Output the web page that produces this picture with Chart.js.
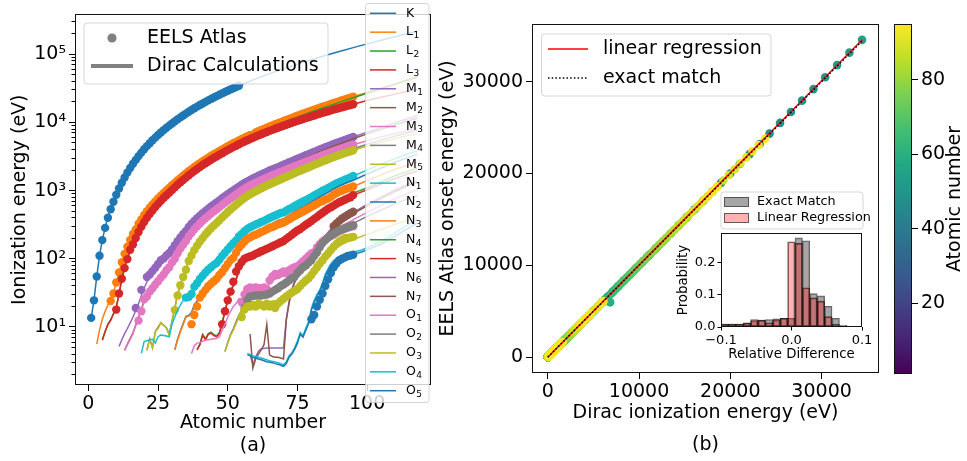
<!DOCTYPE html>
<html><head><meta charset="utf-8">
<script src="https://cdn.jsdelivr.net/npm/chart.js@4/dist/chart.umd.min.js"></script>
<style>
html,body{margin:0;padding:0;background:#fff;}
body{width:967px;height:461px;position:relative;overflow:hidden;}
canvas{position:absolute;}
</style></head><body>
<canvas id="cL" width="445" height="461" style="left:0px;top:0px"></canvas>
<canvas id="cR" width="455" height="461" style="left:435px;top:0px"></canvas>
<canvas id="cI" width="215" height="185" style="left:660px;top:180px"></canvas>
<canvas id="cC" width="87" height="461" style="left:880px;top:0px"></canvas>
<script>
// ================= DATA =================
// Each edge: first atomic number, Dirac values for consecutive Z, EELS Atlas values (same Z, null = none), extra Dirac points [Z, E].
const shellNames = ['K','L1','L2','L3','M1','M2','M3','M4','M5','N1','N2','N3','N4','N5','N6','N7','O1','O2','O3','O4','O5'];
const shellColors = ['#1f77b4','#ff7f0e','#2ca02c','#d62728','#9467bd','#8c564b','#e377c2','#7f7f7f','#bcbd22','#17becf','#1f77b4','#ff7f0e','#2ca02c','#d62728','#9467bd','#8c564b','#e377c2','#7f7f7f','#bcbd22','#17becf','#1f77b4'];

const K_start = 1;
const K_dirac = [13.6,24.6,54.7,111,188,284,410,543,697,870, 1071,1303,1560,1839,2146,2472,2822,3206,3608,4038, 4492,4966,5465,5989,6539,7112,7709,8333,8979,9659, 10367,11103,11867,12658,13474,14326,15200,16105,17038,17998, 18986,20000,21044,22117,23220,24300,25450,26640,27860,29110, 30390,31700,33050,34430];
const K_eels  = [13.6,24.6,55,111,188,284,401,532,685,867, 1072,1305,1560,1839,2146,2472,2822,3206,3608,4038, 4492,4966,5465,5989,6539,7112,7709,8333,8979,9659, 10367,11103,11867,12658,13474,14326,15200,16105,17038,17998, 18986,20000,21044,22117,23220,24350,25514,26711,27940,29200, 30491,31814,33169,34561];
const K_ext = [[55,35985],[60,43569],[65,51996],[70,61332],[75,71676],[80,83102],[85,95730],[90,109651],[95,125030],[100,141900],[105,160500],[110,181000],[115,203600],[118,218000]];

const L1_start = 3;
const L1_dirac = [5.6,9,13,17,21,26,31,45,63,89, 118,150,189,231,270,326,379,438, 498,561,627,696,769,845,925,1009,1097,1196, 1299,1415,1527,1652,1782,1921,2065,2216,2373,2532, 2698,2866,3043,3224,3412,3604,3806,4018,4238,4465, 4698,4939,5188,5453,5714,5989,6266,6549,6835,7126, 7428,7737,8052,8376,8708,9046,9394,9751,10116,10486, 10870,11271,11682,12100,12527,12968,13419,13880,14353,14839, 15347,15861,16388,16939,17493,18049,18639,19237,19840,20472, 21105,21757,22427,23100,23800];
const L1_eels  = [null,null,null,null,null,24,31,45,63,89, 118,150,189,231,270,326,379,438, 498,561,627,696,769,845,925,1009,1097,1196, 1299,1415,1527,1652,1782,1921,2065,2216,2373,2532, 2698,2866,3043,3224,3412,3604,3806,4018,4238,4465, 4698,4939,5188,5453,5714,5989,6266,6549,5970,7126, 7428,7737,8052,8376,8708,9046,9394,9751,10116,10486, 10870,11271,11682,12100,12527,12968,13419,13880,14353,14839, 15347,15861,16388,16939,17493,18049,18639,19237,19840,20472, 21105,21757,22427,23100,23800];
const L1_ext = [[100,27500],[105,31700],[110,36500],[115,42000],[118,45500]];

const L2_ext = [[5,6.5],[6,8.6],[7,11],[8,12.8],[9,15.8],[10,19.5],[11,31],[12,51],[13,74],[14,100],[16,165],[18,251],[20,350],[22,460],[24,584],[26,720],[28,870],[30,1045],[32,1248],[34,1474],[36,1731],[38,2007],[40,2307],[42,2625],[44,2967],[46,3330],[48,3727],[50,4156],[52,4612],[54,5107],[56,5624],[58,6164],[60,6722],[62,7312],[64,7930],[66,8581],[68,9264],[70,9978],[72,10739],[74,11544],[76,12385],[78,13273],[80,14209],[82,15200],[84,16244],[86,17337],[88,18484],[90,19693],[92,20948],[95,23000],[100,26800],[105,31200],[110,36500],[115,42800],[118,47000]];

const L3_start = 5;
const L3_dirac = [6.4,8.5,10.8,12.5,15.5,19, 30.5,49.5,72.7,99.4,136,163,202,248,295,346, 399,454,512,574,639,707,778,853,933,1022, 1116,1217,1324,1434,1550,1678,1804,1940,2080,2223, 2371,2520,2677,2838,3004,3173,3351,3538,3730,3929, 4132,4341,4557,4786,5012,5247,5483,5723,5964,6208, 6459,6716,6977,7243,7514,7790,8071,8358,8648,8944, 9244,9561,9881,10207,10535,10871,11215,11564,11919,12284, 12658,13035,13419,13814,14214,14619,15031,15444,15871,16300, 16733,17166,17610,18000,18500];
const L3_eels  = [null,null,null,null,null,18, 31,51,73,99,136,163,202,248,295,346, 399,454,512,574,639,707,778,853,933,1022, 1116,1217,1324,1434,1550,1678,1804,1940,2080,2223, 2371,2520,2677,2838,3004,3173,3351,3538,3730,3929, 4132,4341,4557,4786,5012,5247,5483,5723,5964,6208, 6459,6716,6977,7243,7514,7790,8071,8358,8648,8944, 9244,9561,9881,10207,10535,10871,11215,11564,11919,12284, 12658,13035,13419,13814,14214,14619,15031,15444,15871,16300, 16733,17166,17610,18000,18500];
const L3_ext = [[100,20900],[105,23400],[110,26000],[115,28800],[118,30500]];

const M1_start = 11;
const M1_dirac = [5.2,6.5,8,9.5,11.5,14,17.5,22,29,37, 46,53,60,68,77,86,97,108,122,135, 158,181,205,232,257,292,327,358,394,430, 467,505,544,586,628,670,719,772,827,884, 946,1006,1072,1145,1217,1293,1362,1436,1511,1575, 1650,1723,1800,1881,1968,2047,2128,2206,2307,2398, 2491,2601,2708,2820,2932,3049,3174,3296,3425,3562, 3704,3851,3999,4149,4317,4482,4652,4822,5002,5182, 5367,5548,5723,5900,6100];
const M1_eels  = [null,null,null,null,null,null,19,null,35,null, 54,59,66,74,84,95,101,112,122,137, 158,181,205,232,257,292,327,358,394,430, 467,505,544,586,628,670,719,772,827,884, 946,1006,1072,1145,1217,1293,1362,1436,1511,1575, 1650,1723,1800,1881,1968,2047,2128,2206,2307,2398, 2491,2601,2708,2820,2932,3049,3174,3296,3425,3562, 3704,3851,3999,4149,4317,4482,4652,4822,5002,5182, 5367,5548,5723,5900,6100];
const M1_ext = [[100,7200],[105,8400],[110,9900],[115,11500],[118,12500]];

const M2_ext = [[13,4.6],[14,5.6],[15,6.8],[16,8.2],[17,10.8],[18,14],[19,18.3],[20,24],[21,29],[22,33.5],[24,43.5],[26,54.5],[28,70.5],[30,91.4],[32,124.9],[34,166.5],[36,222.2],[38,280.3],[40,343.5],[42,411.6],[44,483.5],[46,559.9],[48,652.6],[50,756.5],[52,870.8],[54,999],[56,1137],[58,1274],[60,1403],[62,1541],[64,1688],[66,1842],[68,2006],[70,2173],[72,2365],[74,2575],[76,2792],[78,3027],[80,3279],[82,3554],[84,3854],[86,4159],[88,4490],[90,4830],[92,5182],[95,5750],[100,6800],[105,7900],[110,9200],[115,10600],[118,11500]];

const M3_start = 13;
const M3_dirac = [4.5,5.5,6.6,8,10.5,13.5,17.7,23, 27.7,32,37,42,47,52.7,58.9,68,75,88.6, 100,120.8,141,160.7,182,214.4,239,270,299,330, 361,394,425,461,496,532,573,618,665,714, 766,820,875,937,998,1063,1128,1187,1242,1297, 1357,1420,1481,1544,1611,1676,1741,1812,1885,1950, 2024,2108,2194,2281,2367,2457,2551,2645,2743,2847, 2957,3066,3177,3302,3426,3538,3666,3791,3909,4046, 4174,4303,4435,4550,4700];
const M3_eels  = [null,null,null,null,null,12.4,17,25.4, 28,33,37,42,47,53,58.9,68,75,88.6, 100,120.8,141,160.7,182,214.4,239,270,299,330, 361,394,425,461,496,532,573,618,665,714, 766,820,875,937,998,1063,1128,1187,1242,1297, 1357,1420,1481,1544,1611,1676,1741,1812,1885,1950, 2024,2108,2194,2281,2367,2457,2551,2645,2743,2847, 2957,3066,3177,3302,3426,3538,3666,3791,3909,4046, 4174,4303,4435,4550,4700];
const M3_ext = [[100,5400],[105,6100],[110,6900],[115,7600],[118,8000]];

const M4_ext = [[21,4.6],[22,6.7],[23,5],[24,8.6],[26,11.6],[28,9.8],[29,7.8],[30,12.3],[31,19],[32,30.2],[34,55.5],[36,95],[38,136],[40,181],[42,231],[44,284],[46,340],[48,412],[50,493],[52,583],[54,689],[56,796],[58,902],[60,1003],[62,1111],[64,1222],[66,1333],[68,1453],[70,1576],[72,1716],[74,1872],[76,2031],[78,2202],[80,2385],[82,2586],[84,2798],[86,3022],[88,3248],[90,3491],[92,3728],[95,4120],[100,4800],[105,5500],[110,6300],[115,7100],[118,7600]];

const M5_start = 21;
const M5_dirac = [4.5,6.6,4.9,8.5,9.5,11.5,10.5,9.6,7.6,12, 18.7,29.8,41.7,54.6,69,93.8,112,134,156,179, 202,228,254,280,307,335,368,405,444,485, 528,573,619,676,727,780,836,884,929,980, 1027,1083,1131,1190,1241,1293,1351,1409,1468,1528, 1589,1662,1735,1809,1883,1960,2040,2122,2206,2295, 2389,2484,2580,2683,2787,2892,3000,3105,3219,3332, 3442,3552,3666,3780,3900];
const M5_eels  = [null,null,null,null,null,null,null,null,null,null, 17.7,29,41,54,69,93,112,134,156,179, 202,228,254,280,307,335,368,405,444,485, 528,573,619,676,727,780,836,884,929,980, 1027,1083,1131,1190,1241,1293,1351,1409,1468,1528, 1589,1662,1735,1809,1883,1960,2040,2122,2206,2295, 2389,2484,2580,2683,2787,2892,3000,3105,3219,3332, 3442,3552,3666,3780,3900];
const M5_ext = [[100,4500],[105,5100],[110,5800],[115,6500],[118,6900]];

const N1_start = 19;
const N1_dirac = [4.1,6.1, 6.3,6.5,6.6,5.8,7.2,7.6,7.5,7.4,7.2,11, 14,17.5,21,24.5,27,27.5,30.5,38.9,43.8,50.6, 56.4,63,69.5,75,81.4,87,97,110,122.9,137, 153,169,186,213,232,253,275,291,304,319, 331,347,360,379,396,414,432,450,471,480, 507,538,563,594,625,658,691,725,762,800, 846,892,939,995,1042,1097,1153,1208,1269,1330, 1387,1441,1500,1560,1640];
const N1_eels  = [null,null, null,null,null,null,null,null,null,null,null,null, null,null,null,null,27,27.5,30.5,38.9,43.8,50.6, 56.4,63,69.5,75,81.4,87,97,110,122.9,137, 153,169,186,213,232,253,275,291,304,319, 331,347,360,379,396,414,432,450,471,480, 507,538,563,594,625,658,691,725,762,800, 846,892,939,995,1042,1097,1153,1208,1269,1330, 1387,1441,1500,1560,1640];
const N1_ext = [[100,2000],[105,2450],[110,2950],[115,3500],[118,3850]];

const N2_ext = [[31,4.7],[32,6.6],[33,8.7],[34,11.2],[35,14.3],[36,14.8],[37,16.3],[38,21.3],[39,24],[40,28.5],[42,37.6],[44,46.3],[46,55.7],[48,67],[50,89],[52,110],[54,147],[56,192],[58,223],[60,245],[62,266],[64,290],[66,332],[68,366],[70,386],[72,437],[74,490],[76,549],[78,609],[80,676],[82,762],[84,851],[86,944],[88,1058],[90,1168],[92,1273],[95,1420],[100,1750],[105,2150],[110,2600],[115,3100],[118,3400]];

const N3_start = 31;
const N3_dirac = [4.6,6.5,8.5,11,14,14.5,15.3,20.1,23.1,27.1, 31,35.5,39.5,43.2,47,50.9,58,63.9,73.5,83.6, 95.6,103.3,123,145.5,161,178.6,196,206.5,218,225, 236,247,257,271,285,293,306,320,330,340, 359,381,404,424,446,471,495,519,547,577, 609,643,679,705,740,768,810,879,920,967, 1000,1045,1080,1110,1150];
const N3_eels  = [null,null,null,null,null,null,11,15,20,27, 31,35,39.5,43,47,51,58,64,73.5,84, 95.6,103.3,123,145.5,161,178.6,196,206.5,218,225, 236,247,257,271,285,293,306,320,330,340, 359,381,404,424,446,471,495,519,547,577, 609,643,679,705,740,768,810,879,920,967, 1000,1045,1080,1110,1150];
const N3_ext = [[100,1400],[105,1700],[110,2050],[115,2400],[118,2600]];

const N4_ext = [[39,4.7],[40,5.6],[41,7.8],[42,6.7],[43,8],[44,8.4],[45,7.7],[46,7.4],[47,8.3],[48,11.7],[49,17.7],[50,24.9],[51,33.3],[52,41.9],[53,50.6],[54,69.5],[55,79.8],[56,92.6],[57,105.3],[58,111],[60,121],[62,136],[64,149],[66,163],[68,180],[70,198],[72,223],[74,256],[76,289],[78,332],[80,378],[82,434],[84,500],[86,567],[88,636],[90,712],[92,778],[95,920],[100,1100],[105,1350],[110,1650],[115,1950],[118,2150]];

const N5_start = 39;
const N5_dirac = [4.6,5.5, 7.6,6.5,7.8,8.1,7.5,7.2,8,11,16.9,23.9, 32.1,40.4,48.9,67.5,77.5,89.9,102.5,108,112,118, 123,129,134,140,146,153,160,167,175,182, 196,210,226,243,260,274,294,315,336,359, 385,412,442,473,507,541,572,603,640,675, 705,736,770,800,860];
const N5_eels  = [null,null, null,null,null,null,null,null,null,11,17,24.6, 33,46,65,78,90,100,105,108,112,118, 123,129,134,140,146,153,160,167,175,182, 196,210,226,243,260,274,294,315,336,359, 385,412,442,473,507,541,572,603,640,675, 705,736,770,800,860];
const N5_ext = [[100,1030],[105,1250],[110,1500],[115,1780],[118,1950]];

const N6_ext = [[58,3.9],[59,2.8],[60,3.6],[61,4.4],[62,4.8],[64,4.9],[66,4.9],[68,4.9],[70,4.9],[71,13.2],[72,23.5],[73,36],[74,47],[76,63.5],[78,80],[80,105],[82,146],[84,194],[86,246],[88,304],[90,355],[92,400],[95,480],[100,630],[105,810],[110,1020],[115,1260],[118,1400]];

const N7_start = 58;
const N7_dirac = [7.9,2.5,3.4, 4,4.6,5.5,10.9,3.9,3.7,3.6,3.6,3.5,3.4, 12.7,22.5,34.7,45,53,60.7,68,76,88,100, 120,140,162,185,210,235,262,290,315,340, 362,385,412,440,460];
const N7_eels  = [null,null,null, null,null,null,null,null,null,null,null,null,null, null,null,null,null,null,null,null,null,null,null, null,null,null,null,null,null,null,300,330,360, 390,415,440,465,490];
const N7_ext = [[100,600],[105,770],[110,970],[115,1200],[118,1330]];

const O1_start = 37;
const O1_dirac = [4.1,5.3,5.8,5.9, 6.2,6.4,6.5,6.6,6.7,6.8,7.2,9,11,14, 17,20,22,26,26,29,32,33,33.5,34, 34.5,35,36,38,43,48,50,52,54,56, 60,64,70,75,80,85,92,100,110,120, 133,147,163,180,197,214,234,254,272,290, 305,321,338,355,375];
const O1_eels  = [null,null,null,null, null,null,null,null,null,null,null,null,null,null, null,null,null,null,23,30,36,38,37,38, 37,37,38,36,48,55,60,58,62,65, 62,68,72,75,78,84,92,100,110,120, 125,147,163,180,192,205,215,225,240,255, 265,275,285,295,300];
const O1_ext = [[100,480],[105,610],[110,760],[115,930],[118,1030]];

const O2_start = 49;
const O2_dirac = [4.4,6, 7.8,9.5,12,15,17.7,22,26,27,27.5,28, 28.7,29.4,29.7,30,30.5,31,32.5,34,36,38, 41,45,49,54,59,65,72,80,90,100, 112,125,145,167,181,195,210,225,240,255, 270,285,300,315,330];
const O2_eels  = [null,null, null,null,null,null,null,19,25,28,28.5,29, 29,29,29.5,30,31,33,35,37,40,42, 45,48,52,55,62,68,75,80,88,95, 110,125,148,170,188,205,220,235,248,260, 270,280,290,300,310];
const O2_ext = [[100,420],[105,520],[110,640],[115,770],[118,850]];

const O3_start = 49;
const O3_dirac = [4.3,5.8, 7.5,9,11.3,13.8,17.7,19,19.5,20,20.5,21, 21.5,22,22.5,23,23.5,24,24.3,24.7,25.3,26, 27,27.7,31,34.7,38,42,45,48,53,58, 66,75,85,95,105,115,125,135,145,155, 162,170,178,185,190];
const O3_eels  = [null,null, null,null,null,null,14,18,20,20,21,20, 22,21,20,22,20,21,19,22,24,26, 28,30,32,34,36,40,44,48,52,58, 66,75,85,95,108,120,135,150,165,180, 190,200,203,205,210];
const O3_ext = [[100,230],[105,270],[110,320],[115,370],[118,400]];

const O4_ext = [[57,4.1],[59,3.8],[62,3.5],[65,3.2],[68,3],[70,2.8],[71,3.1],[72,3.8],[73,4.2],[74,5],[75,6.2],[76,8.3],[77,7.5],[78,9.6],[79,12],[80,18.8],[81,24.6],[82,30],[83,35],[84,45],[85,60],[86,72],[87,85],[88,95],[90,108],[92,115],[94,120],[96,128],[98,135],[100,145],[105,180],[110,240],[115,320],[118,380]];

const O5_start = 57;
const O5_dirac = [3.9,3.8,3.6,3.5, 3.4,3.3,3.2,3.1,3.05,3,2.9,2.85,2.75,2.65, 2.9,3.6,4,4.7,5.8,7.8,7.1,9,11.2,17.5, 23,28,33,42,56,67,80,89,95,101, 104,107,110,112,115];
const O5_eels  = [null,null,null,null, null,null,null,null,null,null,null,null,null,null, null,null,null,null,null,null,null,null,null,13, 15,20,25,31,40,50,62,75,85,95, 100,105,110,112,115];
const O5_ext = [[96,119],[98,126],[100,135],[105,165],[110,215],[115,285],[118,335]];

const xTicksL = [0,25,50,75,100];
const yTicksL = [10,100,1000,10000,100000];
const yMinorL = [2,3,4,5,6,7,8,9,20,30,40,50,60,70,80,90,200,300,400,500,600,700,800,900,2000,3000,4000,5000,6000,7000,8000,9000,20000,30000,40000,50000,60000,70000,80000,90000,200000,300000];
const ticksR = [0,10000,20000,30000];
const regSlope = 1.004, regIntercept = -5, lineXmax = 34450;
const zMin = 1, zMax = 95;
const cbTicks = [20,40,60,80];
const histStart = -0.1, histWidth = 0.0105;
const histExact  = [0.009,0.009,0.009,0.013,0.019,0.021,0.023,0.021,0.027,0.027,0.275,0.266,0.103,0.096,0.064,0.027,0.006,0.002,0.001,0];
const histLinear = [0.009,0.009,0.009,0.012,0.023,0.021,0.013,0.025,0.027,0.263,0.258,0.121,0.090,0.080,0.032,0.008,0.002,0.001,0,0];
const histTicksX = [-0.1,0,0.1];
const histTicksY = [0,0.1,0.2];

// edge table assembled from the arrays above
const edgeDefs = [
  [K_start,K_dirac,K_eels,K_ext],[L1_start,L1_dirac,L1_eels,L1_ext],[0,[],[],L2_ext],[L3_start,L3_dirac,L3_eels,L3_ext],
  [M1_start,M1_dirac,M1_eels,M1_ext],[0,[],[],M2_ext],[M3_start,M3_dirac,M3_eels,M3_ext],[0,[],[],M4_ext],[M5_start,M5_dirac,M5_eels,M5_ext],
  [N1_start,N1_dirac,N1_eels,N1_ext],[0,[],[],N2_ext],[N3_start,N3_dirac,N3_eels,N3_ext],[0,[],[],N4_ext],[N5_start,N5_dirac,N5_eels,N5_ext],[0,[],[],N6_ext],[N7_start,N7_dirac,N7_eels,N7_ext],
  [O1_start,O1_dirac,O1_eels,O1_ext],[O2_start,O2_dirac,O2_eels,O2_ext],[O3_start,O3_dirac,O3_eels,O3_ext],[0,[],[],O4_ext],[O5_start,O5_dirac,O5_eels,O5_ext]
];

// ================= HELPERS =================
Chart.defaults.font.family = "'DejaVu Sans', sans-serif";
Chart.defaults.color = '#000';
Chart.defaults.animation = false;
const FS = 19, FONT = "19px 'DejaVu Sans'";
const viridisStops = [[68,1,84],[72,36,117],[65,68,135],[53,95,141],[42,120,142],[33,145,140],[34,168,132],[68,191,112],[122,209,81],[189,223,38],[253,231,37]];
function viridis(t){
  t = Math.max(0, Math.min(1, t));
  const s = t*10, i = Math.min(9, Math.floor(s)), f = s - i;
  const a = viridisStops[i], b = viridisStops[i+1];
  return 'rgb(' + [0,1,2].map(k => Math.round(a[k] + (b[k]-a[k])*f)).join(',') + ')';
}
function rr(c,x,y,w,h,r){c.beginPath();c.moveTo(x+r,y);c.lineTo(x+w-r,y);c.quadraticCurveTo(x+w,y,x+w,y+r);c.lineTo(x+w,y+h-r);c.quadraticCurveTo(x+w,y+h,x+w-r,y+h);c.lineTo(x+r,y+h);c.quadraticCurveTo(x,y+h,x,y+h-r);c.lineTo(x,y+r);c.quadraticCurveTo(x,y,x+r,y);c.closePath();}
function legendBox(c,x0,y0,x1,y1){c.save();rr(c,x0,y0,x1-x0,y1-y0,3);c.fillStyle='rgba(255,255,255,0.8)';c.fill();c.strokeStyle='rgba(204,204,204,0.8)';c.lineWidth=1;c.stroke();c.restore();}
const framePlugin = {id:'frame', afterDatasetsDraw(chart){
  const a = chart.chartArea, c = chart.ctx;
  c.save(); c.strokeStyle = '#111'; c.lineWidth = 1;
  c.strokeRect(Math.round(a.left)+0.5, Math.round(a.top)+0.5, Math.round(a.right)-Math.round(a.left)-1, Math.round(a.bottom)-Math.round(a.top)-1);
  c.restore();
}};
const setTicks = arr => (s => { s.ticks = arr.map(v => ({value:v})); });
const sup = {1:'10¹',2:'10²',3:'10³',4:'10⁴',5:'10⁵'};

// ================= LEFT CHART =================
const dsL = [];
edgeDefs.forEach((def,i) => {
  const [st, dv, ev, ext] = def;
  const ep = []; ev.forEach((v,k) => { if (v !== null) ep.push({x:st+k, y:v}); });
  if (ep.length) dsL.push({label:shellNames[i]+' EELS', data:ep, showLine:false, pointRadius:4.2, pointBorderWidth:0, pointBackgroundColor:shellColors[i], backgroundColor:shellColors[i], borderColor:shellColors[i]});
  const dp = dv.map((v,k) => ({x:st+k, y:v})); ext.forEach(p => dp.push({x:p[0], y:p[1]}));
  dsL.push({label:shellNames[i], data:dp, showLine:true, pointRadius:0, borderWidth:1.5, borderColor:shellColors[i], backgroundColor:shellColors[i], fill:false, tension:0});
});
dsL.forEach((d,k) => d.order = 1000 - k);

const legendL = {id:'legendL', afterDraw(chart){
  const c = chart.ctx; c.save();
  legendBox(c, 84, 23, 328, 84);
  c.fillStyle = '#808080'; c.beginPath(); c.arc(112, 38, 4.6, 0, 2*Math.PI); c.fill();
  c.strokeStyle = '#808080'; c.lineWidth = 4; c.beginPath(); c.moveTo(91, 66); c.lineTo(133, 66); c.stroke();
  c.fillStyle = '#000'; c.font = FONT; c.textBaseline = 'middle'; c.textAlign = 'left';
  c.fillText('EELS Atlas', 147, 38); c.fillText('Dirac Calculations', 147, 66);
  legendBox(c, 365.5, 3.5, 429, 402.5);
  shellNames.forEach((n,i) => {
    const y = 13.3 + 18.87*i;
    c.strokeStyle = shellColors[i]; c.lineWidth = 1.5; c.beginPath(); c.moveTo(370, y); c.lineTo(396, y); c.stroke();
    c.fillStyle = '#000'; c.font = "12.5px 'DejaVu Sans'"; c.textBaseline = 'middle';
    c.fillText(n[0], 406, y);
    if (n.length > 1) { const w = c.measureText(n[0]).width; c.font = "9px 'DejaVu Sans'"; c.fillText(n.slice(1), 406 + w + 0.5, y + 3.5); }
  });
  c.restore();
}};

new Chart(document.getElementById('cL'), {
  type:'scatter',
  data:{datasets:dsL},
  options:{
    responsive:false, devicePixelRatio:1, animation:false,
    layout:{padding:{top:13, right:14, left:0, bottom:0}},
    plugins:{legend:{display:false}, tooltip:{enabled:false}},
    scales:{
      x:{type:'linear', min:-4.8, max:122.9, afterBuildTicks:setTicks(xTicksL),
         ticks:{font:{size:FS}, color:'#000', padding:2, maxRotation:0, autoSkip:false, callback:v=>String(v)},
         grid:{drawOnChartArea:false, tickLength:6, tickColor:'#000'}, border:{display:false},
         title:{display:true, text:['Atomic number','(a)'], font:{size:FS}, color:'#000', padding:{top:0,bottom:3.6}},
         afterFit:s=>{s.height=76;}},
      y:{type:'logarithmic', position:'left', weight:1, min:1.41, max:3.84e5, afterBuildTicks:setTicks(yTicksL),
         ticks:{font:{size:FS}, color:'#000', padding:3, autoSkip:false, callback:v=>sup[Math.round(Math.log10(v))]},
         grid:{drawOnChartArea:false, tickLength:6, tickColor:'#000'}, border:{display:false},
         title:{display:true, text:'Ionization energy (eV)', font:{size:FS}, color:'#000', padding:{top:8.6,bottom:0}},
         afterFit:s=>{s.width=75;}},
      yMinor:{type:'logarithmic', position:'left', weight:0, min:1.41, max:3.84e5, afterBuildTicks:setTicks(yMinorL),
         ticks:{display:false}, grid:{drawOnChartArea:false, tickLength:3.5, tickColor:'#000'}, border:{display:false},
         afterFit:s=>{s.width=0;}}
    }
  },
  plugins:[framePlugin, legendL]
});

// ================= RIGHT CHART =================
const ptsR = [];
edgeDefs.forEach(def => {
  const [st, dv, ev] = def;
  ev.forEach((v,k) => { if (v !== null) ptsR.push({x:dv[k], y:v, z:st+k}); });
});
ptsR.sort((a,b) => a.z - b.z);
const ptsColors = ptsR.map(p => viridis((p.z - zMin)/(zMax - zMin)));

const legendR = {id:'legendR', afterDraw(chart){
  const c = chart.ctx, o = 435; c.save();
  legendBox(c, 541.5-o, 34, 771-o, 96);
  c.strokeStyle = 'red'; c.lineWidth = 1.5; c.beginPath(); c.moveTo(548-o, 49); c.lineTo(588-o, 49); c.stroke();
  c.strokeStyle = '#000'; c.setLineDash([1.5,2.2]); c.beginPath(); c.moveTo(548-o, 78); c.lineTo(588-o, 78); c.stroke(); c.setLineDash([]);
  c.fillStyle = '#000'; c.font = FONT; c.textBaseline = 'middle'; c.textAlign = 'left';
  c.fillText('linear regression', 603-o, 49); c.fillText('exact match', 603-o, 78);
  c.restore();
}};

new Chart(document.getElementById('cR'), {
  type:'scatter',
  data:{datasets:[
    {label:'points', data:ptsR, showLine:false, pointRadius:4.3, pointBorderWidth:0, pointBackgroundColor:ptsColors, order:3},
    {label:'linear regression', data:[{x:0,y:regIntercept},{x:lineXmax,y:regSlope*lineXmax+regIntercept}], showLine:true, pointRadius:0, borderColor:'red', borderWidth:1.5, order:2},
    {label:'exact match', data:[{x:0,y:0},{x:lineXmax,y:lineXmax}], showLine:true, pointRadius:0, borderColor:'#000', borderWidth:1.5, borderDash:[1.5,2.2], order:1}
  ]},
  options:{
    responsive:false, devicePixelRatio:1, animation:false,
    layout:{padding:{top:24, right:11, left:0, bottom:0}},
    plugins:{legend:{display:false}, tooltip:{enabled:false}},
    scales:{
      x:{type:'linear', min:-1728, max:36290, afterBuildTicks:setTicks(ticksR),
         ticks:{font:{size:FS}, color:'#000', padding:2, maxRotation:0, autoSkip:false, callback:v=>String(v)},
         grid:{drawOnChartArea:false, tickLength:6, tickColor:'#000'}, border:{display:false},
         title:{display:true, text:['Dirac ionization energy (eV)','(b)'], font:{size:FS, lineHeight:1.684}, color:'#000', padding:{top:0,bottom:0}},
         afterFit:s=>{s.height=88;}},
      y:{type:'linear', min:-1728, max:36290, afterBuildTicks:setTicks(ticksR),
         ticks:{font:{size:FS}, color:'#000', padding:3, autoSkip:false, callback:v=>String(v)},
         grid:{drawOnChartArea:false, tickLength:6, tickColor:'#000'}, border:{display:false},
         title:{display:true, text:'EELS Atlas onset energy (eV)', font:{size:FS}, color:'#000', padding:{top:1.6,bottom:0}},
         afterFit:s=>{s.width=97;}}
    }
  },
  plugins:[framePlugin, legendR]
});

// ================= INSET HISTOGRAM =================
const histCenters = histExact.map((v,i) => histStart + (i+0.5)*histWidth);
const insetBg = {id:'insetBg', beforeDatasetsDraw(chart){ const a = chart.chartArea, c = chart.ctx; c.save(); c.fillStyle='#fff'; c.fillRect(a.left,a.top,a.right-a.left,a.bottom-a.top); c.restore(); }};
const legendI = {id:'legendI', afterDraw(chart){
  const c = chart.ctx, ox = 660, oy = 180; c.save();
  legendBox(c, 721-ox, 192-oy, 863-ox, 229-oy);
  c.lineWidth = 1;
  c.fillStyle = 'rgba(128,128,128,0.7)'; c.fillRect(724.5-ox, 197.5-oy, 24, 9); c.strokeStyle='rgba(0,0,0,0.6)'; c.strokeRect(724.5-ox, 197.5-oy, 24, 9);
  c.fillStyle = 'rgba(255,0,0,0.3)'; c.fillRect(724.5-ox, 213.5-oy, 24, 9); c.strokeRect(724.5-ox, 213.5-oy, 24, 9);
  c.fillStyle = '#000'; c.font = "12.8px 'DejaVu Sans'"; c.textBaseline='middle'; c.textAlign='left';
  c.fillText('Exact Match', 757-ox, 202-oy); c.fillText('Linear Regression', 757-ox, 218-oy);
  c.restore();
}};
new Chart(document.getElementById('cI'), {
  type:'bar',
  data:{datasets:[
    {label:'Exact Match', data:histCenters.map((x,i)=>({x:x, y:histExact[i]})), backgroundColor:'rgba(128,128,128,0.7)', borderColor:'rgba(0,0,0,0.6)', borderWidth:1, borderSkipped:false, barPercentage:1, categoryPercentage:1, grouped:false, order:2},
    {label:'Linear Regression', data:histCenters.map((x,i)=>({x:x, y:histLinear[i]})), backgroundColor:'rgba(255,0,0,0.3)', borderColor:'rgba(0,0,0,0.6)', borderWidth:1, borderSkipped:false, barPercentage:1, categoryPercentage:1, grouped:false, order:1}
  ]},
  options:{
    responsive:false, devicePixelRatio:1, animation:false,
    layout:{padding:{top:53, right:13, left:0, bottom:0}},
    plugins:{legend:{display:false}, tooltip:{enabled:false}},
    scales:{
      x:{type:'linear', min:-0.1, max:0.1, offset:false, afterBuildTicks:setTicks(histTicksX),
         ticks:{font:{size:13}, color:'#000', padding:2, maxRotation:0, autoSkip:false, callback:v=>(v<0?'−':'')+Math.abs(v).toFixed(1)},
         grid:{drawOnChartArea:false, offset:false, tickLength:3.5, tickColor:'#000'}, border:{display:false},
         title:{display:true, text:'Relative Difference', font:{size:13.3}, color:'#000', padding:{top:0,bottom:2.5}},
         afterFit:s=>{s.height=38;}},
      y:{type:'linear', min:0, max:0.29, afterBuildTicks:setTicks(histTicksY),
         ticks:{font:{size:13}, color:'#000', padding:2, autoSkip:false, callback:v=>v.toFixed(1)},
         grid:{drawOnChartArea:false, tickLength:3.5, tickColor:'#000'}, border:{display:false},
         title:{display:true, text:'Probability', font:{size:13.3}, color:'#000', padding:{top:15.5,bottom:0}},
         afterFit:s=>{s.width=61;}}
    }
  },
  plugins:[insetBg, framePlugin, legendI]
});

// ================= COLORBAR =================
const cbTitle = {id:'cbTitle', afterDraw(chart){
  const c = chart.ctx; c.save();
  c.translate(955-880, 199); c.rotate(-Math.PI/2);
  c.fillStyle='#000'; c.font = FONT; c.textAlign='center'; c.textBaseline='middle';
  c.fillText('Atomic number', 0, 0); c.restore();
}};
new Chart(document.getElementById('cC'), {
  type:'bar',
  data:{labels:[''], datasets:[{data:[[zMin,zMax]], borderWidth:0, barPercentage:1, categoryPercentage:1,
    backgroundColor:(ctx)=>{ const ch = ctx.chart, a = ch.chartArea; if (!a) return '#21918c';
      const g = ch.ctx.createLinearGradient(0, a.bottom, 0, a.top);
      viridisStops.forEach((s,i)=>g.addColorStop(i/10, 'rgb('+s.join(',')+')')); return g; }}]},
  options:{
    responsive:false, devicePixelRatio:1, animation:false,
    layout:{padding:{top:24, right:0, left:14, bottom:87}},
    plugins:{legend:{display:false}, tooltip:{enabled:false}},
    scales:{
      x:{display:false},
      y:{position:'right', min:zMin, max:zMax, afterBuildTicks:setTicks(cbTicks),
         ticks:{font:{size:FS}, color:'#000', padding:3, autoSkip:false},
         grid:{drawOnChartArea:false, tickLength:6, tickColor:'#000'}, border:{display:false},
         afterFit:s=>{s.width=55;}}
    }
  },
  plugins:[framePlugin, cbTitle]
});
</script></body></html>
